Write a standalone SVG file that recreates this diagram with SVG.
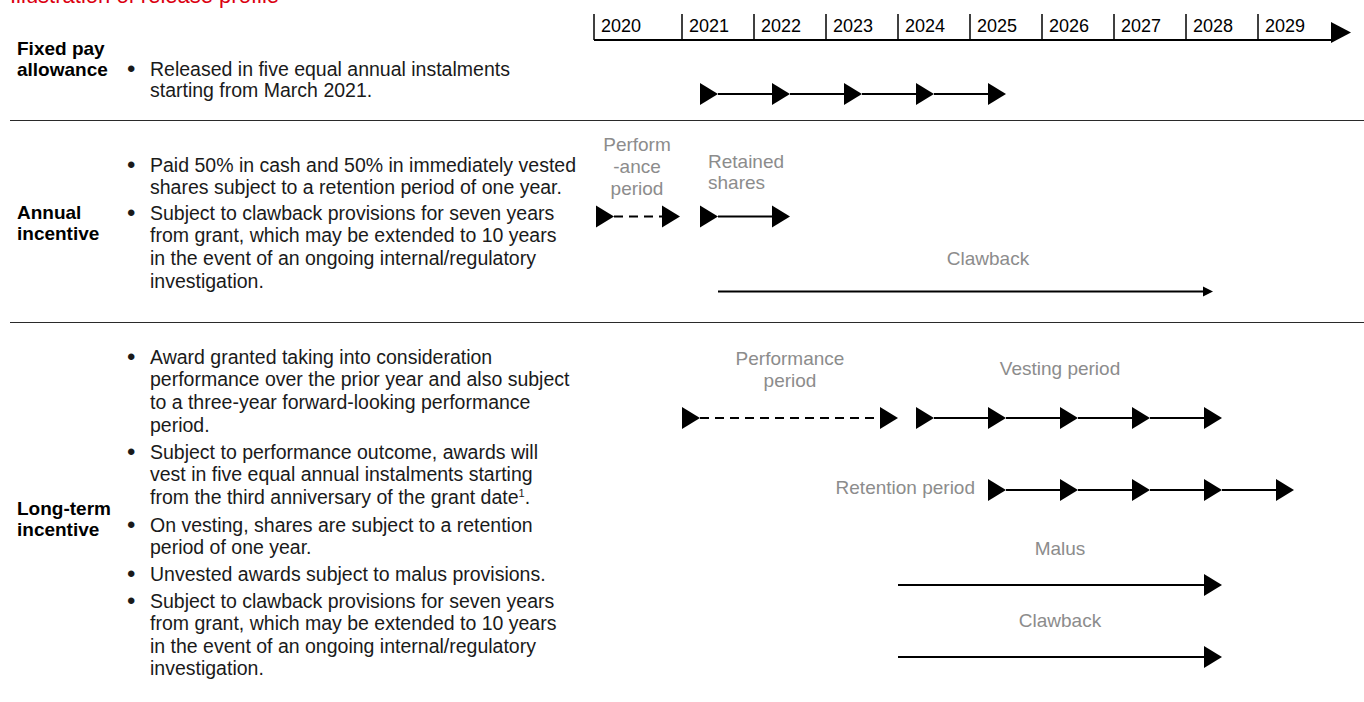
<svg xmlns="http://www.w3.org/2000/svg" xmlns:xlink="http://www.w3.org/1999/xlink" width="1364" height="702" viewBox="0 0 1364 702">
<style>
.title{font-family:"Liberation Sans",Arial,sans-serif;font-size:22px;fill:#db0011}
.hd{font-family:"Liberation Sans",Arial,sans-serif;font-size:19px;font-weight:bold;fill:#000}
.bt{font-family:"Liberation Sans",Arial,sans-serif;font-size:19.5px;fill:#1a1a1a}
.bu{font-family:"Liberation Sans",Arial,sans-serif;font-size:24px;fill:#1a1a1a}
.yr{font-family:"Liberation Sans",Arial,sans-serif;font-size:18px;fill:#000}
.lb{font-family:"Liberation Sans",Arial,sans-serif;font-size:19px;fill:#8c8c8c}
.mid{text-anchor:middle}
.end{text-anchor:end}
.div{stroke:#2a2a2a;stroke-width:1}
.ln{stroke:#000;stroke-width:2;fill:none}
.dash{stroke:#000;stroke-width:2;fill:none;stroke-dasharray:9 6}
.tick{stroke:#000;stroke-width:1.5}
</style>
<defs>
<path id="tri" d="M0,-11 L18,0 L0,11 Z" fill="#000"/>
</defs>

<g id="title">
<text class="title" x="10" y="2.5">Illustration of release profile</text>
</g>

<g id="dividers">
<line class="div" x1="10" y1="120.5" x2="1364" y2="120.5"/>
<line class="div" x1="10" y1="322.5" x2="1364" y2="322.5"/>
</g>

<g id="timeline-axis">
<line x1="594" y1="40" x2="1331" y2="40" stroke="#000" stroke-width="2"/>
<path d="M1331,22 L1351,32.5 L1331,43 Z" fill="#000"/>
<line class="tick" x1="594" y1="14" x2="594" y2="40"/>
<line class="tick" x1="682" y1="14" x2="682" y2="40"/>
<line class="tick" x1="754" y1="14" x2="754" y2="40"/>
<line class="tick" x1="826" y1="14" x2="826" y2="40"/>
<line class="tick" x1="898" y1="14" x2="898" y2="40"/>
<line class="tick" x1="970" y1="14" x2="970" y2="40"/>
<line class="tick" x1="1042" y1="14" x2="1042" y2="40"/>
<line class="tick" x1="1114" y1="14" x2="1114" y2="40"/>
<line class="tick" x1="1186" y1="14" x2="1186" y2="40"/>
<line class="tick" x1="1258" y1="14" x2="1258" y2="40"/>
<text class="yr" x="601" y="32">2020</text>
<text class="yr" x="689" y="32">2021</text>
<text class="yr" x="761" y="32">2022</text>
<text class="yr" x="833" y="32">2023</text>
<text class="yr" x="905" y="32">2024</text>
<text class="yr" x="977" y="32">2025</text>
<text class="yr" x="1049" y="32">2026</text>
<text class="yr" x="1121" y="32">2027</text>
<text class="yr" x="1193" y="32">2028</text>
<text class="yr" x="1265" y="32">2029</text>
</g>

<g id="fixed-pay-allowance">
<text class="hd" x="17" y="55">Fixed pay</text>
<text class="hd" x="17" y="76">allowance</text>
<text class="bu" x="127" y="77">•</text>
<text class="bt" x="150" y="76">Released in five equal annual instalments</text>
<text class="bt" x="150" y="97">starting from March 2021.</text>
</g>

<g id="annual-incentive">
<text class="hd" x="17" y="219">Annual</text>
<text class="hd" x="17" y="240">incentive</text>
<text class="bu" x="127" y="172.5">•</text>
<text class="bt" x="150" y="171.5">Paid 50% in cash and 50% in immediately vested</text>
<text class="bt" x="150" y="193.5">shares subject to a retention period of one year.</text>
<text class="bu" x="127" y="220.5">•</text>
<text class="bt" x="150" y="219.5">Subject to clawback provisions for seven years</text>
<text class="bt" x="150" y="242">from grant, which may be extended to 10 years</text>
<text class="bt" x="150" y="265">in the event of an ongoing internal/regulatory</text>
<text class="bt" x="150" y="287.5">investigation.</text>
<text class="lb mid" x="637" y="151">Perform</text>
<text class="lb mid" x="637" y="173">-ance</text>
<text class="lb mid" x="637" y="195">period</text>
<text class="lb" x="708" y="168">Retained</text>
<text class="lb" x="708" y="189">shares</text>
<text class="lb mid" x="988" y="265">Clawback</text>
</g>

<g id="long-term-incentive">
<text class="hd" x="17" y="515">Long-term</text>
<text class="hd" x="17" y="536">incentive</text>
<text class="bu" x="127" y="364.5">•</text>
<text class="bt" x="150" y="363.5">Award granted taking into consideration</text>
<text class="bt" x="150" y="385.5">performance over the prior year and also subject</text>
<text class="bt" x="150" y="408.5">to a three-year forward-looking performance</text>
<text class="bt" x="150" y="431.5">period.</text>
<text class="bu" x="127" y="459.5">•</text>
<text class="bt" x="150" y="458.5">Subject to performance outcome, awards will</text>
<text class="bt" x="150" y="480.5">vest in five equal annual instalments starting</text>
<text class="bt" x="150" y="503.5">from the third anniversary of the grant date<tspan font-size="11" dy="-7">1</tspan><tspan dy="7">.</tspan></text>
<text class="bu" x="127" y="532.5">•</text>
<text class="bt" x="150" y="531.5">On vesting, shares are subject to a retention</text>
<text class="bt" x="150" y="553.5">period of one year.</text>
<text class="bu" x="127" y="581.5">•</text>
<text class="bt" x="150" y="580.5">Unvested awards subject to malus provisions.</text>
<text class="bu" x="127" y="608.5">•</text>
<text class="bt" x="150" y="607.5">Subject to clawback provisions for seven years</text>
<text class="bt" x="150" y="629.5">from grant, which may be extended to 10 years</text>
<text class="bt" x="150" y="652.5">in the event of an ongoing internal/regulatory</text>
<text class="bt" x="150" y="674.5">investigation.</text>
<text class="lb mid" x="790" y="365">Performance</text>
<text class="lb mid" x="790" y="387">period</text>
<text class="lb mid" x="1060" y="375">Vesting period</text>
<text class="lb end" x="975" y="494">Retention period</text>
<text class="lb mid" x="1060" y="555">Malus</text>
<text class="lb mid" x="1060" y="627">Clawback</text>
</g>

<g id="connectors">
<g id="fixed-chain">
<line class="ln" x1="718" y1="94" x2="772" y2="94"/>
<line class="ln" x1="790" y1="94" x2="844" y2="94"/>
<line class="ln" x1="862" y1="94" x2="916" y2="94"/>
<line class="ln" x1="934" y1="94" x2="988" y2="94"/>
<use xlink:href="#tri" x="700" y="94"/>
<use xlink:href="#tri" x="772" y="94"/>
<use xlink:href="#tri" x="844" y="94"/>
<use xlink:href="#tri" x="916" y="94"/>
<use xlink:href="#tri" x="988" y="94"/>
</g>
<g id="annual-performance">
<line class="dash" x1="614" y1="216.5" x2="662" y2="216.5"/>
<use xlink:href="#tri" x="596" y="216.5"/>
<use xlink:href="#tri" x="662" y="216.5"/>
</g>
<g id="annual-retained">
<line class="ln" x1="718" y1="216.5" x2="772" y2="216.5"/>
<use xlink:href="#tri" x="700" y="216.5"/>
<use xlink:href="#tri" x="772" y="216.5"/>
</g>
<g id="annual-clawback">
<line class="ln" x1="718" y1="291.5" x2="1204" y2="291.5"/>
<path d="M1203,286.5 L1213,291.5 L1203,296.5 Z" fill="#000"/>
</g>
<g id="lti-performance">
<line class="dash" x1="700" y1="418" x2="880" y2="418"/>
<use xlink:href="#tri" x="682" y="418"/>
<use xlink:href="#tri" x="880" y="418"/>
</g>
<g id="lti-vesting">
<line class="ln" x1="934" y1="418" x2="988" y2="418"/>
<line class="ln" x1="1006" y1="418" x2="1060" y2="418"/>
<line class="ln" x1="1078" y1="418" x2="1132" y2="418"/>
<line class="ln" x1="1150" y1="418" x2="1204" y2="418"/>
<use xlink:href="#tri" x="916" y="418"/>
<use xlink:href="#tri" x="988" y="418"/>
<use xlink:href="#tri" x="1060" y="418"/>
<use xlink:href="#tri" x="1132" y="418"/>
<use xlink:href="#tri" x="1204" y="418"/>
</g>
<g id="lti-retention">
<line class="ln" x1="1006" y1="490" x2="1060" y2="490"/>
<line class="ln" x1="1078" y1="490" x2="1132" y2="490"/>
<line class="ln" x1="1150" y1="490" x2="1204" y2="490"/>
<line class="ln" x1="1222" y1="490" x2="1276" y2="490"/>
<use xlink:href="#tri" x="988" y="490"/>
<use xlink:href="#tri" x="1060" y="490"/>
<use xlink:href="#tri" x="1132" y="490"/>
<use xlink:href="#tri" x="1204" y="490"/>
<use xlink:href="#tri" x="1276" y="490"/>
</g>
<g id="lti-malus">
<line class="ln" x1="898" y1="585" x2="1205" y2="585"/>
<use xlink:href="#tri" x="1204" y="585"/>
</g>
<g id="lti-clawback">
<line class="ln" x1="898" y1="657" x2="1205" y2="657"/>
<use xlink:href="#tri" x="1204" y="657"/>
</g>
</g>
</svg>
